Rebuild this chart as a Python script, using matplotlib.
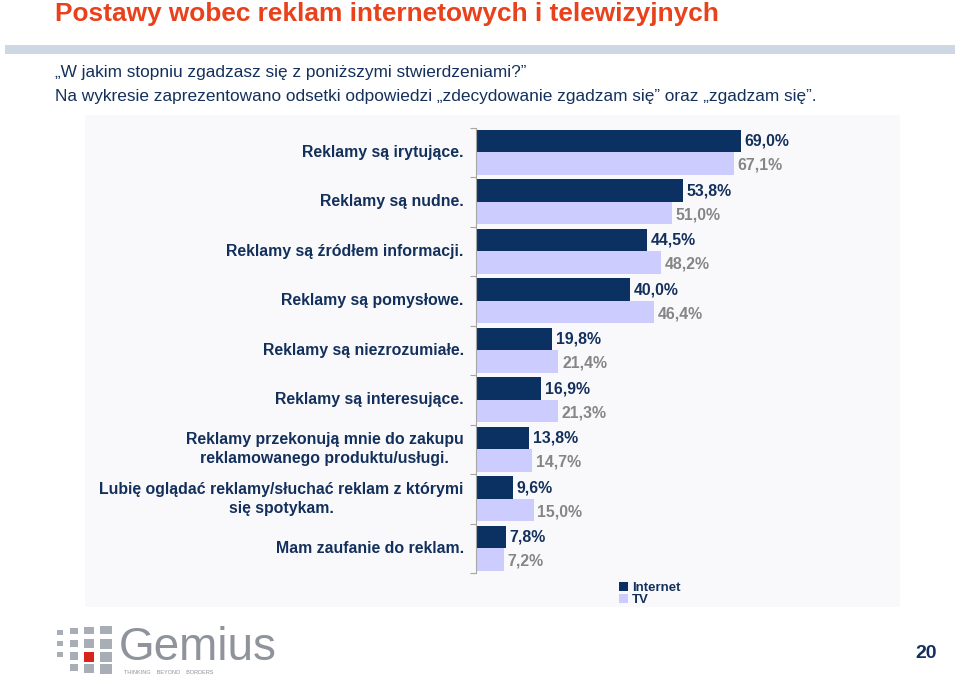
import numpy as np
import matplotlib.pyplot as plt
from matplotlib.patches import Rectangle

# data
categories = [
    'Reklamy są irytujące.',
    'Reklamy są nudne.',
    'Reklamy są źródłem informacji.',
    'Reklamy są pomysłowe.',
    'Reklamy są niezrozumiałe.',
    'Reklamy są interesujące.',
    'Reklamy przekonują mnie do zakupu\nreklamowanego produktu/usługi.',
    'Lubię oglądać reklamy/słuchać reklam z którymi\nsię spotykam.',
    'Mam zaufanie do reklam.',
]
internet = [69.0, 53.8, 44.5, 40.0, 19.8, 16.9, 13.8, 9.6, 7.8]
tv = [67.1, 51.0, 48.2, 46.4, 21.4, 21.3, 14.7, 15.0, 7.2]
series_names = ['Internet', 'TV']

navy = '#0b3163'
lav = '#ccccff'
txt_navy = '#13305c'
W, H = 960, 688

plt.rcParams['font.family'] = ['Liberation Sans', 'DejaVu Sans']
fig = plt.figure(figsize=(W / 100, H / 100), dpi=100)
fig.patch.set_facecolor('white')

def fx(px):
    return px / W

def fy(py):
    return 1 - py / H

# header
fig.text(fx(55), fy(14), 'Postawy wobec reklam internetowych i telewizyjnych',
         fontweight='bold', fontsize=18.9, color='#e8411b', va='center', ha='left')
fig.patches.append(Rectangle((fx(5), fy(54)), fx(950), 9 / H, transform=fig.transFigure,
                             facecolor='#cdd8e4', edgecolor='none', zorder=-2))
fig.text(fx(55), fy(73), '„W jakim stopniu zgadzasz się z poniższymi stwierdzeniami?”',
         fontsize=12.4, color=txt_navy, va='center', ha='left')
fig.text(fx(55), fy(96), 'Na wykresie zaprezentowano odsetki odpowiedzi „zdecydowanie zgadzam się” oraz „zgadzam się”.',
         fontsize=12.4, color=txt_navy, va='center', ha='left')

# faint chart panel
fig.patches.append(Rectangle((fx(85), fy(607)), fx(815), 492 / H, transform=fig.transFigure,
                             facecolor='#f9f9fb', edgecolor='none', zorder=-2))

# chart axes
ax = fig.add_axes([fx(476), fy(573), fx(424), (573 - 127.5) / H])
ax.set_zorder(2)
ax.set_facecolor('none')
y = np.arange(len(categories))
h = 0.45
ax.barh(y - h / 2, internet, height=h, color=navy, label=series_names[0])
ax.barh(y + h / 2, tv, height=h, color=lav, label=series_names[1])
ax.set_xlim(0, 424 / 3.84)
ax.set_ylim(len(categories) - 0.5, -0.5)

for i in range(len(categories)):
    ax.text(internet[i] + 1.0, i - h / 2, f'{internet[i]:.1f}%'.replace('.', ','),
            va='center', ha='left', fontsize=11.4, fontweight='bold', color=txt_navy)
    ax.text(tv[i] + 1.0, i + h / 2 + 0.04, f'{tv[i]:.1f}%'.replace('.', ','),
            va='center', ha='left', fontsize=11.4, fontweight='bold', color='#858585')

for s in ['top', 'right', 'bottom']:
    ax.spines[s].set_visible(False)
ax.spines['left'].set_color('#a6a6a6')
ax.set_xticks([])
ax.set_yticks(np.arange(len(categories) + 1) - 0.5)
ax.set_yticklabels([])
ax.tick_params(axis='y', length=4, color='#a6a6a6')

for i, c in enumerate(categories):
    ax.text(-3.2, i, c, va='center', ha='right', multialignment='center',
            fontsize=11.4, fontweight='bold', color=txt_navy, linespacing=1.3)

# legend
leg = fig.legend(loc='upper left', bbox_to_anchor=(fx(612), fy(575)), frameon=False,
                 handlelength=0.7, handleheight=0.7, handletextpad=0.3,
                 labelspacing=0.02, borderpad=0, prop={'weight': 'bold', 'size': 9.5})
for t in leg.get_texts():
    t.set_color(txt_navy)

# logo
sq = [(57, 630, 6, 5), (70, 628, 8, 6), (84, 627, 10, 7), (100, 626, 12, 8),
      (57, 641, 6, 5), (70, 640, 8, 7), (84, 639, 10, 9), (100, 639, 12, 10),
      (57, 652, 6, 5), (70, 652, 8, 8), (100, 652, 12, 10),
      (70, 664, 8, 7), (84, 664, 10, 9), (100, 664, 12, 10)]
for (x0, y0, w0, h0) in sq:
    fig.patches.append(Rectangle((fx(x0), fy(y0 + h0)), w0 / W, h0 / H,
                                 transform=fig.transFigure, facecolor='#a9adb5', edgecolor='none'))
fig.patches.append(Rectangle((fx(84), fy(662)), 10 / W, 10 / H, transform=fig.transFigure,
                             facecolor='#d9241c', edgecolor='none'))
fig.text(fx(119), fy(648), 'Gemius', fontsize=33, color='#8e939c', va='center', ha='left')
fig.text(fx(124), fy(673), 'THINKING    BEYOND    BORDERS', fontsize=4, color='#8e939c',
         va='center', ha='left')

fig.text(fx(926), fy(653), '20', fontsize=14, fontweight='bold', color=txt_navy,
         va='center', ha='center')

plt.savefig('out.png', dpi=100)
